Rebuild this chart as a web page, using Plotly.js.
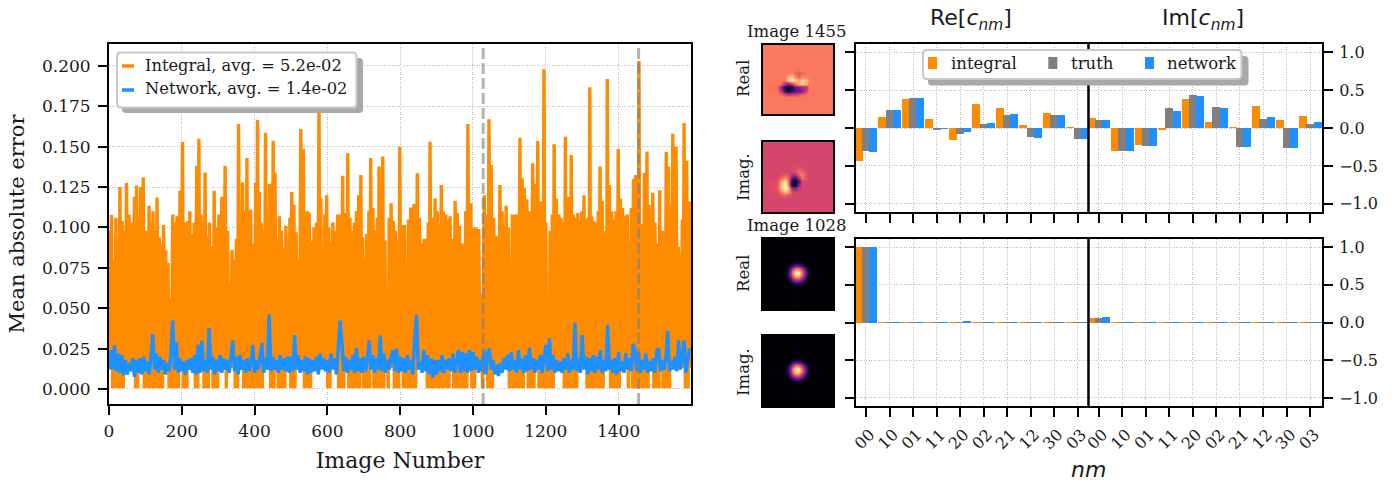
<!DOCTYPE html>
<html><head><meta charset="utf-8">
<script src="https://cdn.plot.ly/plotly-3.0.1.min.js"></script>
<style>html,body{margin:0;padding:0;background:#fff}#g{width:1400px;height:483px}</style>
</head><body><div id="g"></div>
<script>
// ---------- left panel: values ----------
const integralPeakN = [
1,7,13,19,24,30,36,42,48,55,62,70,76,81,87,94,100,105,110,116,121,127,132,138,144,150,156,162,168,175,181,187,195,202,207,211,217,222,228,234,
241,247,253,258,264,270,276,283,289,295,302,310,319,326,332,338,344,350,356,362,367,373,379,384,389,397,403,408,413,418,424,430,436,441,447,451,456,462,468,474,
480,486,492,497,502,508,514,520,527,534,540,545,550,557,563,570,577,582,588,593,598,604,610,615,622,628,634,642,648,652,656,662,668,674,680,686,692,697,703,708,
714,719,725,731,737,742,748,752,758,764,770,775,781,787,792,799,805,812,818,823,829,838,847,853,860,866,872,877,882,889,896,902,908,913,919,925,931,937,943,951,
957,963,970,975,980,986,994,1000,1008,1016,1022,1031,1037,1044,1050,1057,1062,1068,1074,1080,1086,1091,1097,1103,1108,1114,1122,1129,1135,1141,1148,1156,1164,1171,1178,1185,1190,1195,1200,1206,
1212,1218,1223,1229,1236,1242,1248,1254,1260,1265,1270,1276,1282,1288,1293,1299,1305,1311,1316,1321,1326,1332,1338,1344,1349,1355,1360,1365,1369,1375,1381,1387,1393,1399,1405,1411,1417,1424,1430,1435,
1441,1447,1452,1456,1461,1466,1471,1478,1484,1489,1494,1500,1505,1509,1513,1519,1525,1531,1537,1543,1549,1553,1558,1564,1570,1575,1580,1587,1595,1599];
const integralPeakV = [
.098,.1077,.080,.106,.093,.125,.104,.098,.1275,.108,.103,.119,.126,.106,.125,.131,.098,.086,.1135,.103,.110,.098,.1185,.094,.090,.1015,.086,.078,.056,.108,.103,.107,.1228,.153,.098,.103,.104,.110,.096,.103,
.138,.155,.108,.103,.134,.095,.103,.088,.1228,.100,.108,.119,.138,.098,.066,.086,.080,.093,.164,.108,.128,.110,.143,.106,.111,.090,.1275,.1665,.122,.103,.098,.1587,.108,.127,.108,.1537,.134,.093,.107,.098,
.087,.101,.093,.106,.122,.114,.097,.080,.161,.1487,.110,.110,.109,.092,.100,.103,.176,.118,.082,.108,.120,.100,.091,.103,.098,.108,.108,.132,.108,.109,.146,.106,.098,.103,.110,.120,.1325,.094,.081,.096,
.110,.143,.112,.098,.106,.1377,.105,.144,.092,.060,.106,.115,.104,.098,.092,.150,.1015,.1015,.058,.105,.1124,.1145,.1335,.106,.090,.093,.093,.103,.153,.106,.118,.110,.102,.1263,.110,.108,.105,.107,.093,.1165,
.109,.101,.090,.083,.110,.164,.115,.100,.100,.099,.059,.120,.108,.167,.1387,.106,.095,.094,.1263,.110,.101,.1135,.100,.078,.108,.108,.108,.1556,.1305,.1245,.1175,.110,.1397,.127,.1535,.116,.105,.198,.103,.060,
.098,.108,.1515,.118,.108,.106,.103,.1562,.119,.108,.1449,.108,.106,.109,.104,.110,.120,.105,.106,.1868,.107,.104,.103,.110,.1377,.1165,.088,.098,.192,.1263,.110,.105,.110,.1486,.118,.112,.107,.108,.091,.112,
.130,.1325,.120,.2033,.102,.093,.1337,.147,.114,.103,.1215,.103,.062,.090,.123,.098,.098,.1467,.1377,.114,.158,.120,.150,.088,.083,.105,.1647,.1413,.116,.108];
// image-number ranges in which the orange curve visibly drops to (almost) zero
const integralFloorStart = [10,73,94,117,133,160,204,232,259,285,319,342,369,387,442,465,497,534,600,630,658,699,726,763,781,804,873,946,994,1024,1039,1097,1131,1152,1180,1248,1312,1376,1422,1436,1496,1519,1580];
const integralFloorEnd   = [39,82,113,131,151,195,218,245,276,305,328,355,387,424,456,484,516,559,607,649,692,717,756,772,800,845,935,983,1006,1033,1058,1127,1143,1170,1225,1285,1358,1404,1432,1482,1514,1543,1596];
const integralFloorLow = 0.0005;
const integralHiddenLow = 0.013;

// network curve read every 5 images
const networkStep = 5;
const networkV = [
.012,.024,.012,.027,.011,.022,.010,.021,.0085,.018,.009,.016,.011,.019,.0075,.018,.010,.019,.009,.020,
.011,.017,.009,.019,.034,.012,.022,.010,.020,.012,.018,.009,.016,.011,.021,.0423,.012,.029,.010,.019,
.011,.017,.009,.018,.012,.019,.010,.021,.009,.0275,.010,.030,.011,.018,.010,.0375,.012,.020,.009,.018,
.011,.021,.010,.019,.012,.018,.010,.023,.030,.011,.020,.009,.021,.012,.018,.010,.019,.011,.016,.027,
.010,.018,.012,.020,.0285,.010,.019,.012,.0462,.011,.020,.012,.018,.010,.021,.012,.019,.011,.020,.010,
.020,.011,.0334,.012,.021,.010,.018,.011,.020,.009,.019,.010,.018,.011,.020,.009,.022,.012,.019,.011,
.018,.010,.022,.012,.019,.009,.024,.0423,.029,.011,.020,.010,.018,.012,.021,.010,.0255,.011,.019,.010,
.020,.011,.018,.030,.012,.021,.010,.019,.012,.033,.011,.022,.010,.018,.012,.020,.024,.011,.025,.010,
.020,.011,.019,.010,.021,.012,.018,.009,.032,.0458,.012,.017,.010,.024,.011,.021,.009,.019,.007,.018,
.009,.018,.011,.021,.010,.018,.012,.019,.011,.022,.010,.019,.024,.010,.023,.011,.022,.010,.024,.011,
.023,.012,.020,.010,.018,.011,.024,.009,.022,.025,.012,.018,.009,.015,.008,.016,.010,.019,.012,.021,
.011,.023,.012,.018,.010,.024,.012,.019,.010,.021,.011,.0256,.012,.019,.010,.018,.012,.021,.010,.019,
.0272,.011,.0313,.012,.021,.010,.018,.011,.017,.010,.019,.012,.022,.010,.018,.012,.041,.011,.019,.010,
.0334,.012,.020,.009,.019,.011,.021,.010,.020,.012,.024,.010,.018,.011,.0396,.012,.018,.010,.019,.009,
.023,.011,.017,.010,.022,.012,.019,.011,.028,.024,.011,.023,.010,.018,.012,.022,.010,.017,.011,.019,
.010,.024,.025,.011,.018,.012,.019,.036,.011,.017,.012,.020,.011,.0303,.012,.019,.030,.010,.017,.025];
const guideImages = [1028,1455];
const xTicksLeft = [0,200,400,600,800,1000,1200,1400];
const yTicksLeft = [0,.025,.05,.075,.1,.125,.15,.175,.2];
const legendLeft = ["Integral, avg. = 5.2e-02","Network, avg. = 1.4e-02"];

// ---------- right panels ----------
const labelsNM = ["00","10","01","11","20","02","21","12","30","03"];
const tickPositions = [0,1,2,3,4,5,6,7,8,9,9.9,10.9,11.9,12.9,13.9,14.9,15.9,16.9,17.9,18.9];
const tickLabels = labelsNM.concat(labelsNM);
const dividerAt = 9.46;
const topIntegral = [-.435,.145,.382,.119,-.158,.316,.264,.04,.198,.013, .132,-.303,-.224,-.026,.382,.079,.013,.29,.105,.158];
const topTruth    = [-.30,.237,.395,-.026,-.079,.053,.171,-.119,.171,-.145, .105,-.303,-.237,.264,.435,.277,-.25,.119,-.264,.053];
const topNetwork  = [-.312,.237,.395,-.013,-.053,.066,.184,-.132,.171,-.145, .105,-.303,-.237,.224,.422,.264,-.25,.145,-.264,.079];
const lowIntegral = [1,.012,.012,.012,.012,.012,.012,.012,.012,.012, .057,.012,.012,.012,.012,.012,.012,.012,.012,.012];
const lowTruth    = [1,.012,.012,.012,.012,.012,.012,.012,.012,.012, .057,.012,.012,.012,.012,.012,.012,.012,.012,.012];
const lowNetwork  = [1,.012,.012,.012,.025,.012,.012,.012,.012,.012, .07,.012,.012,.012,.012,.012,.012,.012,.012,.012];
const barNames = ["integral","truth","network"];
const yTicksBars = [-1,-.5,0,.5,1];

// thumbnails (magma intensity, rows top to bottom)
const img1455X = [0,.2,.26,.31,.36,.41,.46,.51,.56,.61,.66,.72,1];
const img1455Y = [0,.3,.36,.41,.46,.51,.56,.61,.66,.71,.76,.82,1];
const img1455Real = [
[.72,.72,.72,.72,.72,.72,.72,.72,.72,.72,.72,.72,.72],
[.72,.72,.72,.72,.72,.72,.72,.72,.72,.72,.72,.72,.72],
[.72,.72,.72,.72,.72,.73,.70,.70,.72,.72,.72,.72,.72],
[.72,.72,.72,.72,.73,.74,.68,.62,.68,.72,.72,.72,.72],
[.72,.72,.72,.72,.84,.88,.76,.68,.76,.74,.72,.72,.72],
[.72,.72,.72,.72,.92,.97,.88,.80,.90,.86,.74,.72,.72],
[.72,.72,.68,.45,.35,.55,.70,.86,.90,.82,.73,.72,.72],
[.72,.70,.40,.08,.02,.10,.30,.38,.42,.50,.72,.72,.72],
[.72,.71,.50,.18,.10,.18,.25,.30,.36,.55,.72,.72,.72],
[.72,.72,.68,.56,.50,.52,.56,.60,.64,.70,.72,.72,.72],
[.72,.72,.72,.71,.70,.71,.71,.71,.72,.72,.72,.72,.72],
[.72,.72,.72,.72,.72,.72,.72,.72,.72,.72,.72,.72,.72],
[.72,.72,.72,.72,.72,.72,.72,.72,.72,.72,.72,.72,.72]];
const img1455Imag = [
[.58,.58,.58,.58,.58,.58,.58,.58,.58,.58,.58,.58,.58],
[.58,.58,.58,.58,.58,.58,.58,.58,.58,.58,.58,.58,.58],
[.58,.58,.58,.58,.58,.58,.60,.60,.60,.58,.58,.58,.58],
[.58,.58,.58,.58,.58,.59,.62,.68,.66,.60,.58,.58,.58],
[.58,.58,.59,.62,.62,.50,.50,.70,.72,.62,.58,.58,.58],
[.58,.58,.68,.78,.68,.30,.20,.50,.70,.62,.58,.58,.58],
[.58,.60,.80,.94,.72,.10,.02,.28,.60,.60,.58,.58,.58],
[.58,.62,.86,1.0,.78,.08,.06,.40,.58,.58,.58,.58,.58],
[.58,.62,.84,.98,.88,.42,.38,.54,.58,.58,.58,.58,.58],
[.58,.60,.72,.86,.80,.60,.56,.58,.58,.58,.58,.58,.58],
[.58,.58,.62,.66,.62,.58,.58,.58,.58,.58,.58,.58,.58],
[.58,.58,.58,.58,.58,.58,.58,.58,.58,.58,.58,.58,.58],
[.58,.58,.58,.58,.58,.58,.58,.58,.58,.58,.58,.58,.58]];
const img1028Grid = [0,.3,.34,.38,.42,.46,.49,.52,.56,.6,.64,.68,1];
const img1028 = [
[0,0,0,0,0,0,0,0,0,0,0,0,0],
[0,0,0,0,0,.01,.01,.01,0,0,0,0,0],
[0,0,0,.01,.05,.09,.10,.09,.05,.01,0,0,0],
[0,0,.01,.09,.22,.34,.36,.34,.22,.09,.01,0,0],
[0,0,.05,.22,.44,.63,.68,.63,.44,.22,.05,0,0],
[0,.01,.09,.34,.63,.88,.93,.88,.63,.34,.09,.01,0],
[0,.01,.10,.36,.68,.93,1,.93,.68,.36,.10,.01,0],
[0,.01,.09,.34,.63,.88,.93,.88,.63,.34,.09,.01,0],
[0,0,.05,.22,.44,.63,.68,.63,.44,.22,.05,0,0],
[0,0,.01,.09,.22,.34,.36,.34,.22,.09,.01,0,0],
[0,0,0,.01,.05,.09,.10,.09,.05,.01,0,0,0],
[0,0,0,0,0,.01,.01,.01,0,0,0,0,0],
[0,0,0,0,0,0,0,0,0,0,0,0,0]];
const magma = [[0,"#000004"],[.1,"#140e36"],[.2,"#3b0f70"],[.3,"#641a80"],[.4,"#8c2981"],[.5,"#b73779"],[.6,"#de4968"],[.7,"#f7705c"],[.8,"#fe9f6d"],[.9,"#fecf92"],[1,"#fcfdbf"]];

// ---------- styles ----------
const ORANGE="#ff8c00", BLUE="#1e90ff", GRAY="#808080", SERIF="DejaVu Serif", SANS="DejaVu Sans";
const W=1400,H=483;
const px=x=>x/W, py=y=>1-y/H;
const domX=(a,b)=>[px(a),px(b)], domY=(a,b)=>[py(b),py(a)];
const grid={showgrid:true,gridcolor:"#bdbdbd",griddash:"1px,1.5px",gridwidth:1,zeroline:false};
const frame={showline:true,linecolor:"#000",linewidth:2,ticks:"outside",ticklen:9,tickwidth:2,tickcolor:"#000"};
const tickfontLeft={family:SERIF,size:17,color:"#1a1a1a"};
const tickfontRight={family:SERIF,size:16,color:"#1a1a1a"};

// zigzag through the peaks, touching the floor where the picture does
function inFloor(n){return integralFloorStart.some((s,i)=>n>=s&&n<=integralFloorEnd[i]);}
const integralX=[],integralY=[];
integralPeakN.forEach((n,i)=>{
  integralX.push(n);integralY.push(integralPeakV[i]);
  if(i<integralPeakN.length-1){const m=(n+integralPeakN[i+1])/2;
    integralX.push(m);integralY.push(inFloor(m)?integralFloorLow:integralHiddenLow);}
});
const networkX=networkV.map((_,i)=>i*networkStep);

const traces=[
 {type:"scatter",mode:"lines",name:legendLeft[0],x:integralX,y:integralY,line:{color:ORANGE,width:3.4},xaxis:"x",yaxis:"y",showlegend:false},
 {type:"scatter",mode:"lines",name:legendLeft[1],x:networkX,y:networkV,line:{color:BLUE,width:3.4},xaxis:"x",yaxis:"y",showlegend:false}
];
const W_BAR=.34,SHIFT=[-.31,0,.31],COLS=[ORANGE,GRAY,BLUE];
[[topIntegral,topTruth,topNetwork,"x2","y2"],[lowIntegral,lowTruth,lowNetwork,"x3","y3"]].forEach(p=>{
  [0,1,2].forEach(k=>traces.push({type:"bar",name:barNames[k],x:tickPositions,y:p[k],width:W_BAR,offset:SHIFT[k]-W_BAR/2,
    marker:{color:COLS[k],line:{width:0}},xaxis:p[3],yaxis:p[4],showlegend:false}));
});
function thumb(z,xs,ys,n){return {type:"heatmap",z:z,x:xs,y:ys,zmin:0,zmax:1,zsmooth:"best",colorscale:magma,showscale:false,xaxis:"x"+n,yaxis:"y"+n,hoverinfo:"skip"};}
traces.push(thumb(img1455Real,img1455X,img1455Y,4),thumb(img1455Imag,img1455X,img1455Y,5),thumb(img1028,img1028Grid,img1028Grid,6),thumb(img1028,img1028Grid,img1028Grid,7));

// rounded legend frames
function rrect(x0,y0,x1,y1,r){const X=px,Y=py;
 return `M${X(x0+r)},${Y(y0)}L${X(x1-r)},${Y(y0)}Q${X(x1)},${Y(y0)} ${X(x1)},${Y(y0+r)}L${X(x1)},${Y(y1-r)}Q${X(x1)},${Y(y1)} ${X(x1-r)},${Y(y1)}L${X(x0+r)},${Y(y1)}Q${X(x0)},${Y(y1)} ${X(x0)},${Y(y1-r)}L${X(x0)},${Y(y0+r)}Q${X(x0)},${Y(y0)} ${X(x0+r)},${Y(y0)}Z`;}
const pshape=o=>Object.assign({xref:"paper",yref:"paper",layer:"above"},o);
const shapes=[];
// backdrop under each thumbnail so no paper shows at its rounded edges
[[4,"#f9805e"],[5,"#d9466b"],[6,"#000004"],[7,"#000004"]].forEach(b=>shapes.push({type:"rect",xref:"x"+b[0]+" domain",yref:"y"+b[0]+" domain",x0:0,x1:1,y0:0,y1:1,layer:"below",fillcolor:b[1],line:{width:0}}));
guideImages.forEach(n=>shapes.push({type:"line",xref:"x",yref:"y domain",x0:n,x1:n,y0:0,y1:1,layer:"above",line:{color:"rgba(128,128,128,.6)",width:3,dash:"11px,4px"}}));
["y2","y3"].forEach(a=>shapes.push({type:"line",xref:"x2",yref:a+" domain",x0:dividerAt,x1:dividerAt,y0:0,y1:1,layer:"above",line:{color:"#000",width:2.5}}));
// left legend
shapes.push(pshape({type:"path",path:rrect(122,58,363,113,4),fillcolor:"#a8a8a8",line:{width:0}}));
shapes.push(pshape({type:"path",path:rrect(117,52.5,356.5,107.5,4),fillcolor:"#fff",line:{color:"#c8c8c8",width:2}}));
shapes.push(pshape({type:"line",x0:px(122),x1:px(134),y0:py(66),y1:py(66),line:{color:ORANGE,width:3.5}}));
shapes.push(pshape({type:"line",x0:px(122),x1:px(134),y0:py(90),y1:py(90),line:{color:BLUE,width:3.5}}));
// bar legend
shapes.push(pshape({type:"path",path:rrect(928,56,1248.5,85.5,4),fillcolor:"#a8a8a8",line:{width:0}}));
shapes.push(pshape({type:"path",path:rrect(923,50,1241.5,79,4),fillcolor:"#fff",line:{color:"#c8c8c8",width:2}}));
[[928,ORANGE],[1048.3,GRAY],[1145,BLUE]].forEach(s=>shapes.push(pshape({type:"rect",x0:px(s[0]),x1:px(s[0]+9),y0:py(57),y1:py(69),fillcolor:s[1],line:{width:0}})));

const ann=(t,x,y,o)=>Object.assign({text:t,xref:"paper",yref:"paper",x:px(x),y:py(y),showarrow:false,xanchor:"center",yanchor:"middle",font:{family:SERIF,size:16.5,color:"#1a1a1a"}},o||{});
const annotations=[
 ann(legendLeft[0],143,65,{xanchor:"left",font:{family:SERIF,size:16.3,color:"#1a1a1a"}}),
 ann(legendLeft[1],143,89,{xanchor:"left",font:{family:SERIF,size:16.3,color:"#1a1a1a"}}),
 ann(barNames[0],948.5,63,{xanchor:"left"}),ann(barNames[1],1068.5,63,{xanchor:"left"}),ann(barNames[2],1165,63,{xanchor:"left"}),
 ann("Re[<i>c<sub>nm</sub></i>]",971,19,{font:{family:SANS,size:22,color:"#1a1a1a"}}),
 ann("Im[<i>c<sub>nm</sub></i>]",1203,19,{font:{family:SANS,size:22,color:"#1a1a1a"}}),
 ann("<i>nm</i>",1088,469,{font:{family:SANS,size:22,color:"#1a1a1a"}}),
 ann("Image 1455",797,31),ann("Image 1028",797,226),
 ann("Real",743,79,{textangle:-90}),ann("Imag.",743,177,{textangle:-90}),
 ann("Real",743,274,{textangle:-90}),ann("Imag.",743,372,{textangle:-90})
];
const thumbAxis=(dx,anc)=>({domain:dx,range:[0,1],showticklabels:false,ticks:"",showline:true,mirror:true,linecolor:"#000",linewidth:2,showgrid:false,zeroline:false,anchor:anc});
const thumbAxisY=(dy,anc)=>({domain:dy,range:[1,0],showticklabels:false,ticks:"",showline:true,mirror:true,linecolor:"#000",linewidth:2,showgrid:false,zeroline:false,anchor:anc});
const barX=(dy,labels,anc)=>Object.assign({},grid,frame,{domain:domX(856,1322),range:[-.425,19.39],tickmode:"array",tickvals:tickPositions,ticktext:tickLabels,showticklabels:labels,tickangle:-45,tickfont:tickfontRight,ticklabelstandoff:2,ticklabelshift:4,mirror:true,anchor:anc});
const barY=(dy,anc)=>Object.assign({},grid,frame,{domain:dy,range:[-1.107,1.107],tickmode:"array",tickvals:yTicksBars,ticktext:["\u22121.0","\u22120.5","0.0","0.5","1.0"],side:"right",mirror:"ticks",tickfont:tickfontRight,ticklabelstandoff:3,anchor:anc});

const layout={width:W,height:H,margin:{l:0,r:0,t:0,b:0},paper_bgcolor:"#fff",plot_bgcolor:"#fff",showlegend:false,barmode:"overlay",bargap:0,
 xaxis:Object.assign({},grid,frame,{domain:domX(109,691),range:[0,1599],tickmode:"array",tickvals:xTicksLeft,tickfont:tickfontLeft,ticklabelstandoff:2,mirror:true,anchor:"y",title:{text:"Image Number",font:{family:SERIF,size:22,color:"#1a1a1a"},standoff:12}}),
 yaxis:Object.assign({},grid,frame,{domain:domY(44,404),range:[-.0093,.2136],tickmode:"array",tickvals:yTicksLeft,tickformat:".3f",tickfont:tickfontLeft,ticklabelstandoff:4,mirror:true,anchor:"x",title:{text:"Mean absolute error",font:{family:SERIF,size:21,color:"#1a1a1a"},standoff:12}}),
 xaxis2:barX(domY(44,212),false,"y2"),yaxis2:barY(domY(44,212),"x2"),
 xaxis3:barX(domY(239,406),true,"y3"),yaxis3:barY(domY(239,406),"x3"),
 xaxis4:thumbAxis(domX(763,833),"y4"),yaxis4:thumbAxisY(domY(45,114),"x4"),
 xaxis5:thumbAxis(domX(763,833),"y5"),yaxis5:thumbAxisY(domY(142,212),"x5"),
 xaxis6:thumbAxis(domX(763,833),"y6"),yaxis6:thumbAxisY(domY(239,309),"x6"),
 xaxis7:thumbAxis(domX(763,833),"y7"),yaxis7:thumbAxisY(domY(336,406),"x7"),
 shapes:shapes,annotations:annotations};
Plotly.newPlot("g",traces,layout,{displayModeBar:false,staticPlot:true});
</script></body></html>
